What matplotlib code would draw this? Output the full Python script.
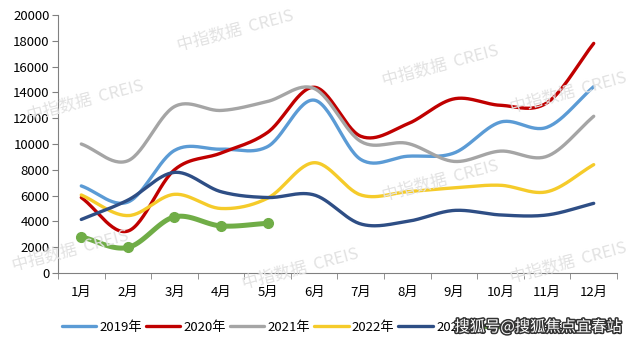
import numpy as np
import matplotlib
matplotlib.use("Agg")
import matplotlib.pyplot as plt
import matplotlib.patheffects as pe

plt.rcParams['font.family'] = ['Noto Sans CJK SC', 'DejaVu Sans']

months = ['1月', '2月', '3月', '4月', '5月', '6月', '7月', '8月', '9月', '10月', '11月', '12月']
y2019 = [6750, 5500, 9500, 9600, 9800, 13400, 8800, 9050, 9300, 11700, 11300, 14450]
y2020 = [5850, 3250, 8000, 9300, 10900, 14400, 10600, 11550, 13500, 13000, 13200, 17800]
y2021 = [10000, 8700, 12900, 12600, 13300, 14300, 10200, 10050, 8650, 9450, 9050, 12150]
y2022 = [6050, 4450, 6100, 5000, 5800, 8550, 6050, 6300, 6600, 6800, 6300, 8400]
y2023 = [4150, 5650, 7800, 6300, 5850, 6050, 3800, 4000, 4850, 4500, 4500, 5400]
y2024 = [2800, 1980, 4350, 3650, 3850]
series_labels = ['2019年', '2020年', '2021年', '2022年', '2023年', '2024年']
yticks = [0, 2000, 4000, 6000, 8000, 10000, 12000, 14000, 16000, 18000, 20000]

colors = ['#5B9BD5', '#C00000', '#A5A5A5', '#F5CB2A', '#2E4E85', '#70AD47']


def smooth(x, y, n=30):
    x = np.asarray(x, float)
    y = np.asarray(y, float)
    if len(x) < 3:
        return x, y
    px = np.concatenate([[2 * x[0] - x[1]], x, [2 * x[-1] - x[-2]]])
    py = np.concatenate([[2 * y[0] - y[1]], y, [2 * y[-1] - y[-2]]])
    xs, ys = [], []
    for i in range(1, len(px) - 2):
        t = np.linspace(0, 1, n, endpoint=(i == len(px) - 3))
        f = lambda a0, a1, a2, a3: 0.5 * ((2 * a1) + (-a0 + a2) * t +
                                          (2 * a0 - 5 * a1 + 4 * a2 - a3) * t ** 2 +
                                          (-a0 + 3 * a1 - 3 * a2 + a3) * t ** 3)
        xs.append(f(px[i - 1], px[i], px[i + 1], px[i + 2]))
        ys.append(f(py[i - 1], py[i], py[i + 1], py[i + 2]))
    return np.concatenate(xs), np.concatenate(ys)


fig = plt.figure(figsize=(6.31, 3.42), dpi=100)
ax = fig.add_axes([58 / 631, 1 - 273 / 342, (617 - 58) / 631, (273 - 15) / 342])

# watermarks
wm = dict(color='#E2E2E2', fontsize=12, rotation=15, zorder=0,
          transform=fig.transFigure, ha='center', va='center')
for (wx, wy) in [(235, 30), (440, 65), (85, 100), (300, 268), (440, 180), (568, 92), (70, 250), (568, 262)]:
    fig.text(wx / 631, 1 - wy / 342, '中指数据  CREIS', **wm)

x = np.arange(1, 13)
data = [y2019, y2020, y2021, y2022, y2023]
handles = []
for vals, c, lab in zip(data, colors[:5], series_labels[:5]):
    sx, sy = smooth(x[:len(vals)], vals)
    h, = ax.plot(sx, sy, color=c, lw=2.4, solid_capstyle='round', label=lab, zorder=3)
    handles.append(h)
sx, sy = smooth(x[:len(y2024)], y2024)
h, = ax.plot(sx, sy, color=colors[5], lw=3.6, solid_capstyle='round', label=series_labels[5], zorder=4)
ax.plot(x[:len(y2024)], y2024, 'o', color=colors[5], ms=7, zorder=5)
handles.append(h)

ax.set_xlim(0.5, 12.5)
ax.set_ylim(0, 20000)
ax.set_yticks(yticks)
ax.set_yticklabels([str(v) for v in yticks], fontsize=9.5)
ax.set_xticks(x)
ax.set_xticklabels(months, fontsize=9.5)
ax.set_xticks(np.arange(0.5, 13, 1), minor=True)
ax.tick_params(axis='x', which='major', length=0, pad=9)
ax.tick_params(axis='x', which='minor', length=4, color='#808080')
ax.tick_params(axis='y', length=4, color='#808080', pad=2)
for s in ['top', 'right']:
    ax.spines[s].set_visible(False)
for s in ['left', 'bottom']:
    ax.spines[s].set_color('#808080')

leg = fig.legend(handles=handles, labels=series_labels, loc='center left', ncol=6,
                 bbox_to_anchor=(50 / 631, 1 - 327 / 342), frameon=False,
                 fontsize=9.5, handlelength=2.6, handletextpad=0.25, columnspacing=0.3)

fig.text(538 / 631, 1 - 327 / 342, '搜狐号@搜狐焦点宜春站', fontsize=11, color='white',
         ha='center', va='center', zorder=10,
         path_effects=[pe.withStroke(linewidth=2.2, foreground='#333333')])

fig.savefig('out.png', dpi=100)
